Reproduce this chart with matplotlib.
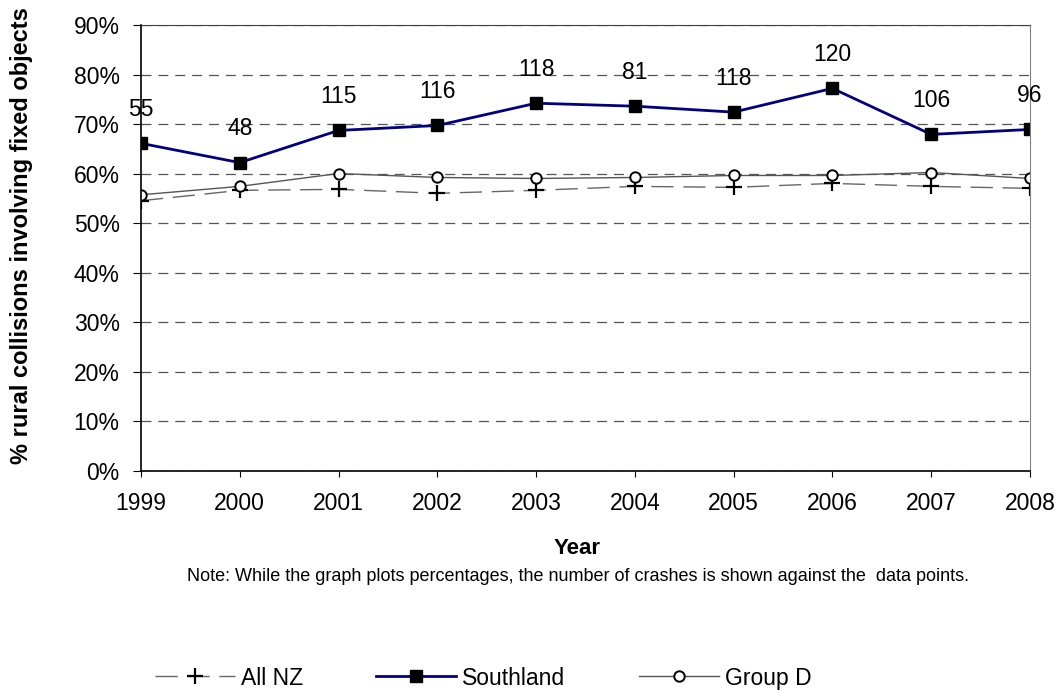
import matplotlib
matplotlib.use("Agg")
import matplotlib.pyplot as plt
from matplotlib.ticker import PercentFormatter

years = [1999, 2000, 2001, 2002, 2003, 2004, 2005, 2006, 2007, 2008]
all_nz = [54.5, 56.6, 56.8, 56.0, 56.6, 57.4, 57.2, 58.0, 57.4, 57.0]
southland = [66.1, 62.2, 68.7, 69.7, 74.2, 73.6, 72.4, 77.2, 67.9, 68.9]
group_d = [55.7, 57.4, 60.0, 59.2, 59.0, 59.2, 59.6, 59.6, 60.2, 59.0]
crash_counts = [55, 48, 115, 116, 118, 81, 118, 120, 106, 96]

plt.rcParams["font.family"] = ["Liberation Sans", "DejaVu Sans"]

fig = plt.figure(figsize=(10.63, 6.91), dpi=100)
ax = fig.add_axes([0.1326, 0.3191, 0.8363, 0.6447])

ax.plot(years, all_nz, color="#666666", lw=1.0, dashes=(16, 7),
        marker="+", markersize=11, markeredgewidth=1.6, markeredgecolor="black",
        label="All NZ")
ax.plot(years, southland, color="#000080", lw=2, marker="s", markersize=8.5,
        markerfacecolor="black", markeredgecolor="black", label="Southland")
ax.plot(years, group_d, color="#555555", lw=1.0, marker="o", markersize=7.5,
        markerfacecolor="white", markeredgecolor="black", markeredgewidth=1.4,
        label="Group D")

# number of crashes above each Southland point
for x, y, n in zip(years, southland, crash_counts):
    ax.annotate(str(n), (x, y), xytext=(0, 24.5), textcoords="offset points",
                ha="center", va="center", fontsize=16.5)

ax.set_xlim(1999, 2008)
ax.set_ylim(0, 90)
ax.set_yticks(range(0, 91, 10))
ax.yaxis.set_major_formatter(PercentFormatter(decimals=0))
ax.set_xticks(years)
ax.tick_params(labelsize=16.5, color="black")
ax.tick_params(axis="x", length=4.5, pad=11)
ax.tick_params(axis="y", length=5.8, pad=9.5)
ax.grid(axis="y", color="#555555", linestyle=(0, (8, 5.5)), lw=0.9)
ax.set_axisbelow(True)
ax.spines["top"].set_color("#404040")
ax.spines["right"].set_color("#808080")
ax.spines["left"].set_linewidth(1.2)
ax.spines["bottom"].set_linewidth(1.2)

ax.set_xlabel("Year", fontsize=16, fontweight="bold", va="center")
ax.xaxis.set_label_coords(0.4904, -0.174)
ax.set_ylabel("% rural collisions involving fixed objects", fontsize=17,
              fontweight="bold", va="center")
ax.yaxis.set_label_coords(-0.134, 0.527)

fig.text(0.5437, 0.165, "Note: While the graph plots percentages, the number of crashes is shown against the  data points.",
         ha="center", va="center", fontsize=13)

fig.legend(loc="center", bbox_to_anchor=(0.4544, 0.0188), ncol=3, frameon=False,
           fontsize=16.5, handlelength=3.5, columnspacing=3.2, handletextpad=0.25,
           borderpad=0.2)

fig.savefig("out.png", dpi=100)
